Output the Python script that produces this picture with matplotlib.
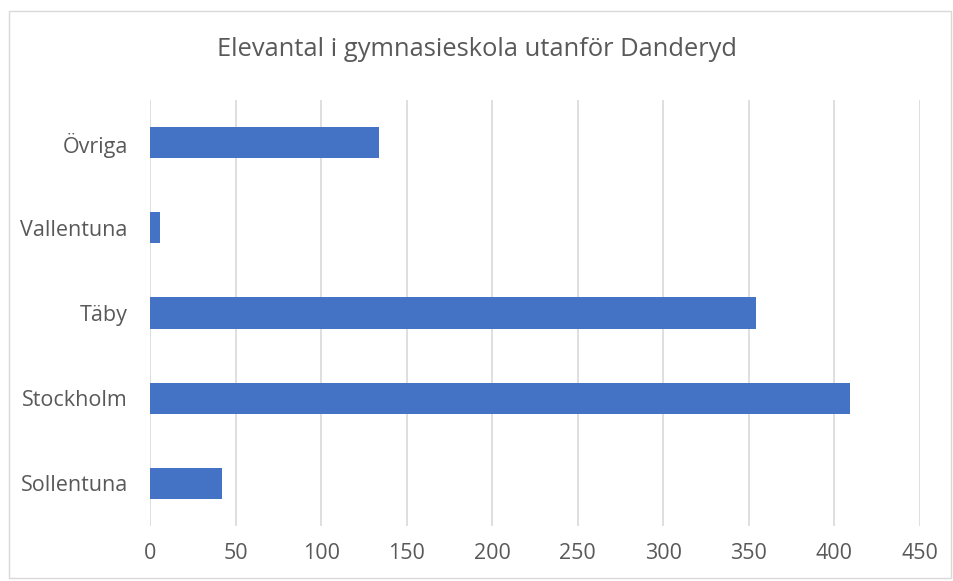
import matplotlib
matplotlib.use("Agg")
from matplotlib import pyplot as plt
from matplotlib.patches import Rectangle
import numpy as np

categories = ['Sollentuna', 'Stockholm', 'Täby', 'Vallentuna', 'Övriga']
values = [42, 409, 354, 6, 134]
xticks = [0, 50, 100, 150, 200, 250, 300, 350, 400, 450]

plt.rcParams['font.family'] = ['Open Sans', 'DejaVu Sans']
txt = '#595959'

fig = plt.figure(figsize=(9.54, 5.81), dpi=100)
fig.patches.append(Rectangle((9 / 954, 1 - 578 / 581), 942 / 954, 567 / 581,
                             transform=fig.transFigure, fill=False,
                             edgecolor='#d9d9d9', linewidth=1))
ax = fig.add_axes([150 / 954, 1 - 526 / 581, 770 / 954, 426 / 581])

y = np.arange(len(categories))
ax.barh(y, values, height=0.365, color='#4472c4', zorder=3)
ax.set_xlim(0, 450)
ax.set_ylim(-0.5, len(categories) - 0.5)
ax.set_xticks(xticks)
ax.set_xticklabels([str(t) for t in xticks])
ax.set_yticks(y)
ax.set_yticklabels(categories)
ax.grid(axis='x', color='#d9d9d9', linewidth=1.2, zorder=0)
for s in ax.spines.values():
    s.set_visible(False)
ax.tick_params(length=0, labelsize=15.5, colors=txt)
ax.tick_params(axis='y', pad=16)
ax.tick_params(axis='x', pad=12)

fig.text(0.5, 1 - 50 / 581, 'Elevantal i gymnasieskola utanför Danderyd',
         ha='center', va='center', fontsize=18.4, color=txt)

fig.savefig('out.png', dpi=100)
